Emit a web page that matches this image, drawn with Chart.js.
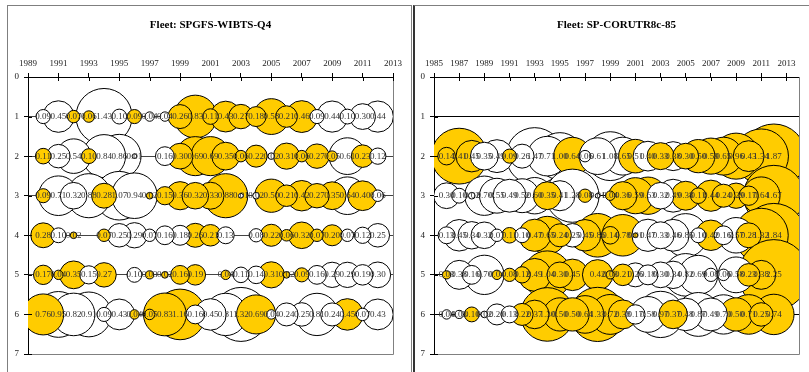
<!DOCTYPE html>
<html>
<head>
<meta charset="utf-8">
<script src="https://cdn.jsdelivr.net/npm/chart.js@4.4.1/dist/chart.umd.min.js"></script>
<style>
  body { margin: 0; background: #fff; }
  #wrap { position: relative; width: 809px; height: 372px; overflow: hidden; }
  #frameL { position: absolute; left: 7px; top: 5px; width: 405px; height: 420px; box-sizing: border-box; border: 1px solid #7f7f7f; }
  #frameR { position: absolute; left: 413px; top: 5px; width: 420px; height: 420px; box-sizing: border-box; border-left: 2px solid #333; border-top: 1px solid #7f7f7f; }
  #boxL { position: absolute; left: 0; top: 0; }
  #boxR { position: absolute; left: 411px; top: 0; }
</style>
</head>
<body>
<div id="wrap">
  <div id="frameL"></div>
  <div id="frameR"></div>
  <canvas id="boxL" width="411" height="372"></canvas>
  <canvas id="boxR" width="398" height="372"></canvas>
</div>
<script>
// left panel: SPGFS-WIBTS-Q4, ages 1-6 (positive = yellow, negative = white)
const titleLeft = "Fleet: SPGFS-WIBTS-Q4";
const yearsLeft = [1990, 1991, 1992, 1993, 1994, 1995, 1996, 1997, 1998, 1999, 2000, 2001,
  2002, 2003, 2004, 2005, 2006, 2007, 2008, 2009, 2010, 2011, 2012];
const agesLeft = [1, 2, 3, 4, 5, 6];
const xTicksLeft = [1989, 1991, 1993, 1995, 1997, 1999, 2001, 2003, 2005, 2007, 2009, 2011, 2013];
const age1Left = [-0.09, -0.45, 0.07, 0.06, -1.43, -0.10, 0.09, -0.04, -0.04, 0.26, 0.83, 0.11, 0.43, 0.27, 0.18, 0.58, 0.21, 0.46, -0.09, -0.44, -0.10, -0.30, -0.44];
const age2Left = [0.11, -0.25, -0.54, 0.10, -0.84, -0.86, -0.01, null, -0.16, 0.30, 0.69, 0.69, 0.35, 0.06, 0.22, -0.02, 0.31, 0.06, 0.27, 0.05, -0.61, 0.23, -0.12];
const age3Left = [0.09, -0.71, -0.32, -0.88, 0.28, -1.07, -0.94, 0.02, 0.15, 0.36, 0.32, 0.33, 0.88, -0.01, -0.02, 0.50, 0.21, 0.42, 0.27, 0.35, -0.64, 0.40, -0.06];
const age4Left = [0.28, -0.10, 0.02, null, 0.07, -0.25, -0.29, -0.07, -0.16, -0.18, 0.26, 0.21, -0.13, null, -0.08, 0.22, 0.06, 0.32, 0.07, 0.20, -0.07, -0.12, -0.25];
const age5Left = [0.17, 0.04, 0.35, -0.15, 0.27, null, -0.10, 0.03, 0.02, 0.16, 0.19, null, 0.04, -0.11, -0.14, 0.31, 0.02, 0.09, -0.16, -0.29, -0.29, -0.19, -0.30];
const age6Left = [0.76, -0.95, -0.82, -0.91, -0.09, -0.43, 0.04, 0.05, 0.83, 1.16, -0.16, -0.45, -0.81, -1.32, 0.69, -0.04, -0.24, -0.25, -0.81, -0.24, 0.45, -0.07, -0.43];

// right panel: SP-CORUTR8c-85, ages 2-6 (age 1 has no data)
const titleRight = "Fleet: SP-CORUTR8c-85";
const yearsRight = [1986, 1987, 1988, 1989, 1990, 1991, 1992, 1993, 1994, 1995, 1996, 1997, 1998, 1999,
  2000, 2001, 2002, 2003, 2004, 2005, 2006, 2007, 2008, 2009, 2010, 2011, 2012];
const agesRight = [2, 3, 4, 5, 6];
const xTicksRight = [1985, 1987, 1989, 1991, 1993, 1995, 1997, 1999, 2001, 2003, 2005, 2007, 2009, 2011, 2013];
const age2Right = [0.14, 1.41, 0.45, -0.35, -0.49, 0.09, -0.26, -1.47, -0.71, -1.00, 0.64, -0.06, -0.61, -1.08, -0.65, 0.51, -0.40, 0.33, -0.38, 0.30, 0.50, 0.59, 0.65, 0.96, 0.43, 1.34, 1.87];
const age3Right = [-0.30, -0.10, -0.02, -0.70, -0.55, -0.49, -0.52, -0.60, 0.35, -0.41, -1.28, 0.08, -0.01, 0.04, 0.36, 0.59, 0.63, -0.32, -0.49, 0.38, 0.11, 0.44, 0.24, 0.29, 0.17, 0.64, 1.67];
const age4Right = [-0.13, -0.45, -0.34, -0.32, -0.07, 0.11, -0.10, 0.47, 0.65, 0.24, -0.25, 0.45, 0.86, 0.14, 0.78, 0.01, -0.47, -0.33, -0.46, -0.85, -0.10, 0.42, -0.16, -0.57, 0.28, 1.32, 1.84];
const age5Right = [0.03, -0.38, -0.16, -0.70, 0.04, 0.08, 0.12, 0.49, 1.04, 0.30, 0.45, null, 0.42, 0.03, 0.21, -0.26, -0.18, -0.30, -0.34, -0.82, -0.69, -0.08, -0.06, -0.58, 0.23, 0.38, 2.25];
const age6Right = [-0.04, -0.03, 0.10, -0.02, -0.20, -0.13, 0.22, 0.37, 1.30, 0.50, 0.50, 0.64, 1.33, 0.72, 0.38, -0.17, -0.58, -0.97, 0.37, -0.48, -0.87, -0.49, -0.70, 0.50, 0.71, 0.25, 0.74];

const yTicks = [0, 1, 2, 3, 4, 5, 6, 7];

const serif = "'Liberation Serif', 'Times New Roman', serif";
const yellow = "#ffcc00";
const bubbleScale = 23.5;

Chart.defaults.font.family = serif;

// Excel draws the big bubbles first, so small ones stay visible
const buildDatasets = (years, ages, rows) => {
  return rows.map((row, i) => {
    const points = years
      .map((yr, j) => ({ x: yr, y: ages[i], v: row[j] }))
      .filter((p) => p.v !== null)
      .map((p) => ({ ...p, r: bubbleScale * Math.sqrt(Math.abs(p.v)) }))
      .sort((a, b) => b.r - a.r);
    return {
      data: points,
      backgroundColor: points.map((p) => (p.v > 0 ? yellow : "#ffffff")),
      borderColor: "#000",
      borderWidth: 1,
      clip: 0,
      order: 10 - ages[i],
    };
  });
};

const bubbleLabels = {
  id: "bubbleLabels",
  afterDatasetsDraw(chart) {
    const ctx = chart.ctx;
    ctx.save();
    ctx.font = "9px " + serif;
    ctx.fillStyle = "#333";
    ctx.textAlign = "center";
    ctx.textBaseline = "middle";
    chart.data.datasets.forEach((ds, i) => {
      const meta = chart.getDatasetMeta(i);
      meta.data.forEach((pt, j) => {
        ctx.fillText(Math.abs(ds.data[j].v).toFixed(2), pt.x, pt.y);
      });
    });
    ctx.restore();
  },
};

const plotFrame = {
  id: "plotFrame",
  afterDraw(chart) {
    const { ctx, chartArea: a } = chart;
    ctx.save();
    ctx.lineWidth = 1;
    ctx.strokeStyle = "#808080";
    ctx.beginPath();
    ctx.moveTo(a.left, Math.round(a.bottom) + 0.5);
    ctx.lineTo(Math.round(a.right) + 0.5, Math.round(a.bottom) + 0.5);
    ctx.lineTo(Math.round(a.right) + 0.5, a.top);
    ctx.stroke();
    ctx.strokeStyle = "#000";
    ctx.beginPath();
    const xs = chart.scales.x;
    xs.ticks.forEach((t) => {
      const px = Math.round(xs.getPixelForValue(t.value)) + 0.5;
      ctx.moveTo(px, a.top);
      ctx.lineTo(px, a.top + 4);
    });
    const ys = chart.scales.y;
    ys.ticks.forEach((t) => {
      const py = Math.round(ys.getPixelForValue(t.value)) + 0.5;
      ctx.moveTo(a.left, py);
      ctx.lineTo(a.left + 4, py);
    });
    ctx.stroke();
    ctx.font = "bold 11px " + serif;
    ctx.fillStyle = "#000";
    ctx.textAlign = "center";
    ctx.textBaseline = "middle";
    ctx.fillText(chart.options.plugins.panelTitle, (a.left + a.right) / 2, 25);
    ctx.restore();
  },
};

const noOverhang = (s) => {
  s.paddingLeft = 0;
  s.paddingRight = 0;
  s.paddingTop = 0;
  s.paddingBottom = 0;
};

const makeChart = (id, title, years, ages, rows, xTicks, lineColor, plotLeft, padRight) => {
  new Chart(document.getElementById(id), {
    type: "bubble",
    data: { datasets: buildDatasets(years, ages, rows) },
    options: {
      responsive: false,
      animation: false,
      events: [],
      devicePixelRatio: 1,
      layout: { autoPadding: false, padding: { left: 0, top: 0, right: padRight, bottom: 18 } },
      plugins: {
        legend: { display: false },
        tooltip: { enabled: false },
        panelTitle: title,
      },
      scales: {
        x: {
          type: "linear",
          position: "top",
          min: xTicks[0],
          max: xTicks[xTicks.length - 1] + (id === "boxR" ? 1 : 0),
          afterBuildTicks: (s) => {
            s.ticks = xTicks.map((v) => ({ value: v }));
          },
          afterFit: (s) => {
            s.height = 77;
            noOverhang(s);
          },
          ticks: {
            callback: (v) => String(v),
            font: { size: 9 },
            color: "#222",
            padding: 4,
            maxRotation: 0,
            autoSkip: false,
          },
          grid: { drawOnChartArea: false, tickLength: 4, color: "#000" },
          border: { color: "#000", width: 1 },
        },
        y: {
          type: "linear",
          reverse: true,
          min: 0,
          max: 7,
          afterBuildTicks: (s) => {
            s.ticks = yTicks.map((v) => ({ value: v }));
          },
          afterFit: (s) => {
            s.width = plotLeft;
            noOverhang(s);
          },
          ticks: { font: { size: 9 }, color: "#222", padding: 5 },
          grid: {
            color: (ctx) => (ctx.tick && ctx.tick.value > 0 && ctx.tick.value < 7 ? lineColor : "rgba(0,0,0,0)"),
            tickColor: "#000",
            tickLength: 4,
          },
          border: { color: "#000", width: 1 },
        },
      },
    },
    plugins: [bubbleLabels, plotFrame],
  });
};

makeChart("boxL", titleLeft, yearsLeft, agesLeft,
  [age1Left, age2Left, age3Left, age4Left, age5Left, age6Left], xTicksLeft, "#444", 28, 18);
makeChart("boxR", titleRight, yearsRight, agesRight,
  [age2Right, age3Right, age4Right, age5Right, age6Right], xTicksRight, "#000", 23, 10);
</script>
</body>
</html>
